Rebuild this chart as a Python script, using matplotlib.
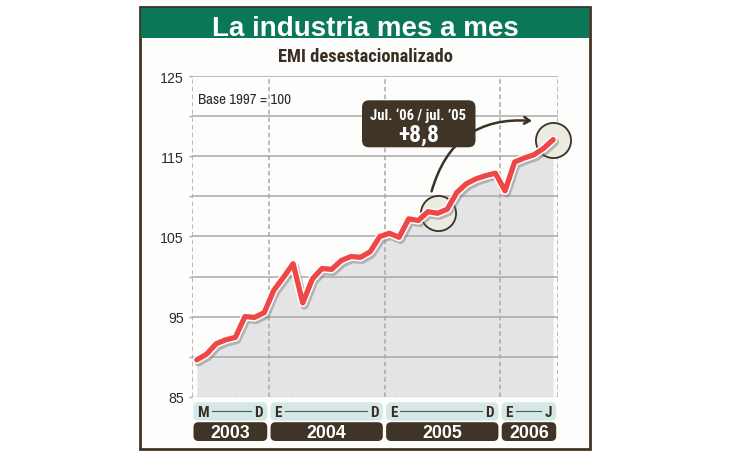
import matplotlib
matplotlib.use('Agg')
import matplotlib.pyplot as plt
from matplotlib.patches import FancyBboxPatch, Rectangle, FancyArrowPatch
from matplotlib.transforms import IdentityTransform
from matplotlib import font_manager as fm
import matplotlib.patheffects as pe
import numpy as np

# ---------------- data ----------------
title = "La industria mes a mes"
subtitle = "EMI desestacionalizado"
base_note = "Base 1997 = 100"
callout_line1 = "Jul. \u201806 / jul. \u201905"
callout_line2 = "+8,8"

years = ['2003', '2004', '2005', '2006']
months_in_year = [8, 12, 12, 6]
month_marks = [('M', 'D'), ('E', 'D'), ('E', 'D'), ('E', 'J')]

emi = [89.6, 90.3, 91.6, 92.1, 92.4, 95.0, 94.9, 95.5,
       98.3, 99.9, 101.6, 96.7, 99.7, 101.0, 100.9, 102.0, 102.5, 102.4, 103.1, 105.0,
       105.4, 104.9, 107.2, 107.0, 108.1, 107.9, 108.4, 110.5, 111.6, 112.2, 112.6, 112.9,
       110.7, 114.3, 114.8, 115.2, 116.0, 117.1]
highlight_idx = [25, 37]

y_ticks = [85, 90, 95, 100, 105, 110, 115, 120, 125]
y_labelled = [85, 95, 105, 115, 125]

# ---------------- fonts ----------------
ttf = fm.fontManager.ttflist
SANS = ['Liberation Sans', 'DejaVu Sans']
CANDS = ['Liberation Sans Narrow', 'Archivo Narrow', 'Roboto Condensed', 'PT Sans Narrow',
         'Barlow Condensed', 'Fira Sans Condensed', 'Asap Condensed', 'IBM Plex Sans Condensed',
         'Encode Sans Condensed', 'Pragati Narrow']


def wnum(w):
    if isinstance(w, (int, float)):
        return int(w)
    try:
        return int(w)
    except ValueError:
        return fm.weight_dict.get(str(w).lower(), 400)


def pick(bold):
    for c in CANDS:
        ent = [f for f in ttf if f.name == c and f.style == 'normal']
        if bold:
            ent = [f for f in ent if 600 <= wnum(f.weight) <= 800]
            key = lambda f: abs(wnum(f.weight) - 700)
        else:
            ent = [f for f in ent if 350 <= wnum(f.weight) <= 500]
            key = lambda f: abs(wnum(f.weight) - 400)
        if ent:
            return sorted(ent, key=key)[0].fname
    return None


NARROW_BOLD = pick(True)
NARROW_REG = pick(False)


def nprops(size, bold):
    path = NARROW_BOLD if bold else NARROW_REG
    if path:
        return fm.FontProperties(fname=path, size=size)
    return fm.FontProperties(family=SANS, size=size * 0.86, weight='bold' if bold else 'normal')


# ---------------- style ----------------
W, H = 730, 460
BROWN = '#3f3426'
GREEN = '#0b7759'
RED = '#ef4646'
GRID = '#a9a9a9'
FILL = '#e4e3e5'
TEAL = '#d4e9e7'

plt.rcParams['font.family'] = SANS

fig = plt.figure(figsize=(W / 100, H / 100), dpi=100)
fig.patch.set_facecolor('white')
ID = IdentityTransform()


def dy(y):
    return H - y


def ntext(target, xx, yy, s, size, bold=False, **kw):
    return target.text(xx, yy, s, transform=ID, fontproperties=nprops(size, bold), **kw)


# frame and header
fig.add_artist(Rectangle((140, dy(450)), 450, 442, transform=ID, facecolor='#fdfdfc',
                         edgecolor=BROWN, linewidth=2.0, zorder=-5))
fig.add_artist(Rectangle((141.2, dy(39)), 447.6, 30, transform=ID, facecolor=GREEN,
                         edgecolor='none', zorder=-4))
fig.text(365, dy(36.5), title, transform=ID, ha='center', va='baseline', color='white',
         fontsize=20, fontweight='bold', family=SANS)
ntext(fig, 365, dy(62.5), subtitle, 13.3, True, ha='center', va='baseline', color='#3a2e22')

# axes
ax = fig.add_axes([192 / W, 1 - 397.7 / H, 366 / W, 320.4 / H])
ax.set_facecolor('none')
n = len(emi)
x = np.arange(n)
ax.set_xlim(-0.5, n - 0.5)
ax.set_ylim(y_ticks[0], y_ticks[-1])
for s in ax.spines.values():
    s.set_visible(False)

ax.fill_between(x, emi, y_ticks[0], color=FILL, zorder=1, linewidth=0)

for t in y_ticks[1:]:
    ax.axhline(t, color=GRID, lw=1.1, zorder=2)
ax.axhline(y_ticks[0], color=GRID, lw=1.0, ls=(0, (3, 2)), zorder=2)

bounds = np.concatenate([[0], np.cumsum(months_in_year)]) - 0.5
for b in bounds:
    ax.axvline(b, color=GRID, lw=1.1, ls=(0, (3, 2)), zorder=2)

ax.set_xticks([])
ax.set_yticks(y_ticks)
ax.set_yticklabels([str(t) if t in y_labelled else '' for t in y_ticks],
                   fontsize=10.2, color='#2b2b2b', family=SANS)
ax.tick_params(axis='y', length=2.5, width=1, color=GRID, pad=3.5)

# highlight circles
ax.scatter([x[i] for i in highlight_idx], [emi[i] for i in highlight_idx], s=640,
           facecolor='#ecebe1', edgecolor='#3b3024', linewidth=1.3, zorder=3, clip_on=False)

# red line
ax.plot(x, emi, color=RED, lw=3.8, solid_joinstyle='round', solid_capstyle='round', zorder=5,
        clip_on=False,
        path_effects=[pe.SimpleLineShadow(offset=(1.2, -1.8), shadow_color='#777777', alpha=0.45,
                                          linewidth=6),
                      pe.Stroke(linewidth=6.0, foreground='white'), pe.Normal()])

# base note
ntext(ax, 198, dy(104), base_note, 10.8, False, ha='left', va='baseline', color='#2b2b2b')

# arrow (arc)
i0, i1 = highlight_idx
ax.add_patch(FancyArrowPatch((x[i0] - 0.7, emi[i0] + 2.4), (x[i1] - 1.9, emi[i1] + 2.3),
                             connectionstyle='arc3,rad=-0.42',
                             arrowstyle='->,head_length=4,head_width=2.4',
                             color='#3b3024', lw=1.8, zorder=6, clip_on=False))

# callout box
ax.add_patch(FancyBboxPatch((362, dy(148.3)), 113.5, 47, boxstyle='round,pad=0,rounding_size=7',
                            transform=ID, facecolor=BROWN, edgecolor='none', zorder=7, clip_on=False))
ntext(ax, 418.5, dy(120), callout_line1, 10.5, True, ha='center', va='baseline', color='white',
      zorder=8)
ntext(ax, 418.5, dy(141.7), callout_line2, 17, True, ha='center', va='baseline', color='white',
      zorder=8)

# bottom month / year bands
renderer = fig.canvas.get_renderer()
for k, yr in enumerate(years):
    xl = ax.transData.transform((bounds[k], 0))[0] + 1.5
    xr = ax.transData.transform((bounds[k + 1], 0))[0] - 1.8
    fig.add_artist(FancyBboxPatch((xl, dy(421.7)), xr - xl, 18.4,
                                  boxstyle='round,pad=0,rounding_size=5', transform=ID,
                                  facecolor=TEAL, edgecolor='none'))
    fig.add_artist(FancyBboxPatch((xl, dy(442)), xr - xl, 18.8,
                                  boxstyle='round,pad=0,rounding_size=5', transform=ID,
                                  facecolor=BROWN, edgecolor='none'))
    fig.text((xl + xr) / 2, dy(437.8), yr, transform=ID, ha='center', va='baseline',
             color='white', fontsize=12.8, fontweight='bold', family=SANS)
    a, b = month_marks[k]
    ta = ntext(fig, xl + 3.5, dy(417), a, 11, True, ha='left', va='baseline', color='#3a2e22')
    tb = ntext(fig, xr - 4.5, dy(417), b, 11, True, ha='right', va='baseline', color='#3a2e22')
    ea = ta.get_window_extent(renderer)
    eb = tb.get_window_extent(renderer)
    fig.add_artist(plt.Line2D([ea.x1 + 3, eb.x0 - 3], [dy(411.8), dy(411.8)], transform=ID,
                              color='#555555', lw=0.8))

fig.savefig('out.png', dpi=100)
